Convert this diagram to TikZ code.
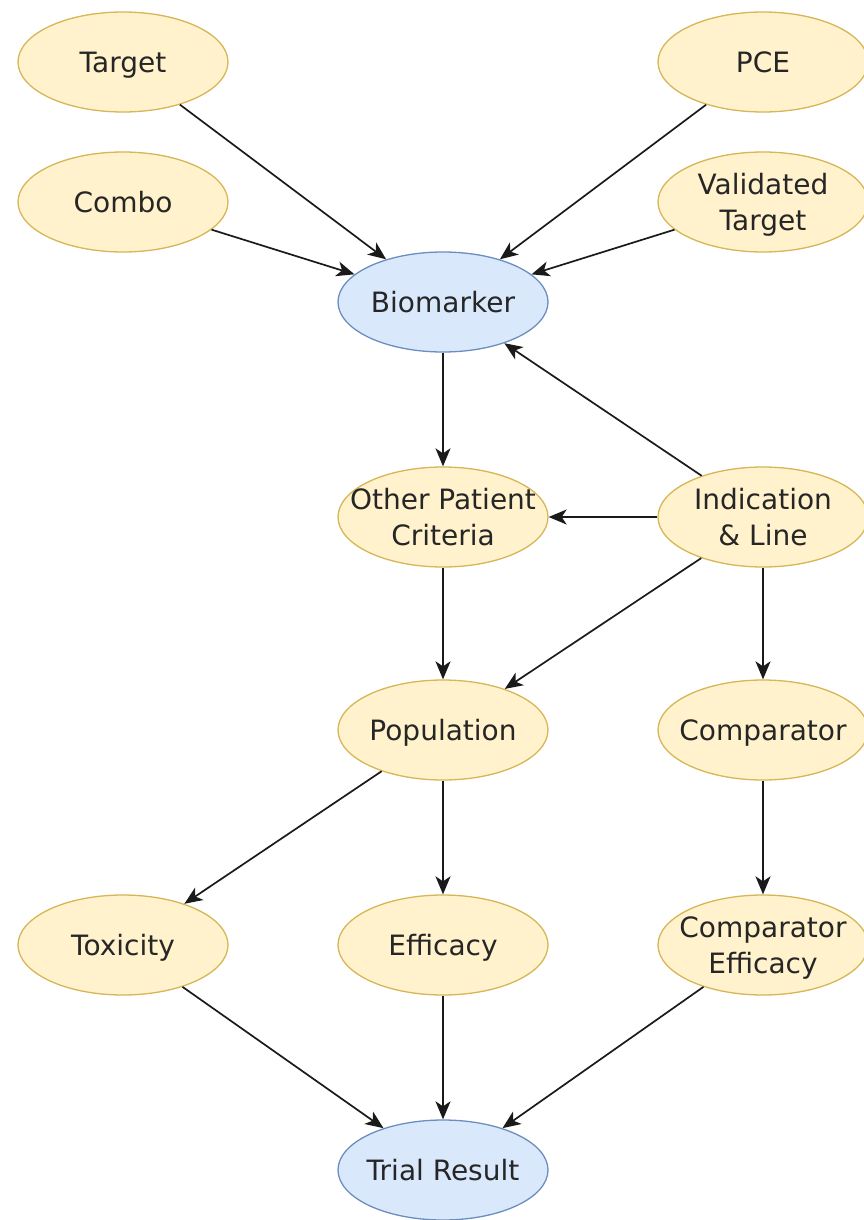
\documentclass[tikz,border=0pt]{standalone}
\usepackage{fontspec}
\setmainfont{DejaVu Sans}
\usetikzlibrary{shapes.geometric,arrows.meta}
\definecolor{yfill}{HTML}{FFF2CC}
\definecolor{ydraw}{HTML}{D6B656}
\definecolor{bfill}{HTML}{DAE8FC}
\definecolor{bdraw}{HTML}{6C8EBF}
\definecolor{txt}{HTML}{262626}
\definecolor{edge}{HTML}{1A1A1A}
% strut that keeps each text line centred on its capitals
\newcommand{\vs}{\rule[-6.6pt]{0pt}{33.6pt}}
\begin{document}
\begin{tikzpicture}[x=1pt,y=-1pt,
  base/.style={ellipse,minimum width=210pt,minimum height=100pt,inner sep=0pt,line width=1.3pt},
  yel/.style={base,fill=yfill,draw=ydraw},
  blu/.style={base,fill=bfill,draw=bdraw},
  every label/.style={font=\fontsize{28}{36}\selectfont,text=txt,align=center,inner sep=0pt},
  arr/.style={draw=edge,line width=1.7pt,-{Stealth[length=18pt,width=15pt,inset=5pt]}}]
\useasboundingbox (0,0) rectangle (864,1220);

% row 1
\node[yel,label=center:\vs Target] (target) at (123,62) {};
\node[yel,label=center:\vs PCE] (pce) at (763,62) {};
% row 2
\node[yel,label=center:\vs Combo] (combo) at (123,202) {};
\node[yel,label={center:\vs Validated\\\vs Target}] (vtarget) at (763,202) {};
% row 3
\node[blu,label=center:\vs Biomarker] (bio) at (443,302) {};
% row 4
\node[yel,label={center:\vs Other Patient\\\vs Criteria}] (opc) at (443,517) {};
\node[yel,label={center:\vs Indication\\\vs \& Line}] (ind) at (763,517) {};
% row 5
\node[yel,label=center:\vs Population] (pop) at (443,730) {};
\node[yel,label=center:\vs Comparator] (comp) at (763,730) {};
% row 6
\node[yel,label=center:\vs Toxicity] (tox) at (123,945) {};
\node[yel,label=center:\vs Efficacy] (eff) at (443,945) {};
\node[yel,label={center:\vs Comparator\\\vs Efficacy}] (ceff) at (763,945) {};
% row 7
\node[blu,label=center:\vs Trial Result] (trial) at (443,1170) {};

% connectors
\draw[arr] (target) -- (bio);
\draw[arr] (combo) -- (bio);
\draw[arr] (pce) -- (bio);
\draw[arr] (vtarget) -- (bio);
\draw[arr] (bio) -- (opc);
\draw[arr] (ind) -- (bio);
\draw[arr] (ind) -- (opc);
\draw[arr] (ind) -- (pop);
\draw[arr] (ind) -- (comp);
\draw[arr] (opc) -- (pop);
\draw[arr] (pop) -- (tox);
\draw[arr] (pop) -- (eff);
\draw[arr] (comp) -- (ceff);
\draw[arr] (tox) -- (trial);
\draw[arr] (eff) -- (trial);
\draw[arr] (ceff) -- (trial);
\end{tikzpicture}
\end{document}
